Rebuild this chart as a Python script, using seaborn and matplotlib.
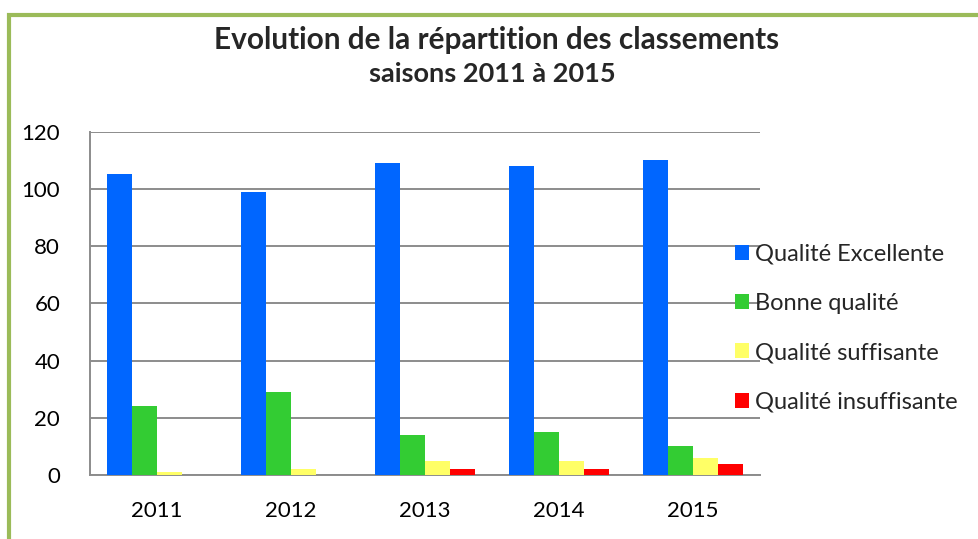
import pandas as pd
import numpy as np
import matplotlib.pyplot as plt
import seaborn as sns
from matplotlib.patches import Rectangle

# Data
years = ['2011', '2012', '2013', '2014', '2015']
excellente = [105, 99, 109, 108, 110]
bonne = [24, 29, 14, 15, 10]
suffisante = [1, 2, 5, 5, 6]
insuffisante = [0, 0, 2, 2, 4]

series = ['Qualité Excellente', 'Bonne qualité', 'Qualité suffisante', 'Qualité insuffisante']
colors = ['#0066FF', '#33CC33', '#FFFF66', '#FF0000']

data = pd.DataFrame({'Année': years,
                     series[0]: excellente,
                     series[1]: bonne,
                     series[2]: suffisante,
                     series[3]: insuffisante})
long = data.melt(id_vars='Année', var_name='Classement', value_name='Nombre')

sns.set_style('white')
plt.rcParams['font.family'] = ['Lato', 'DejaVu Sans']

fig = plt.figure(figsize=(9.79, 5.39), dpi=100)
ax = fig.add_axes([90 / 979, 1 - 475 / 539, 670 / 979, 343.5 / 539])

sns.barplot(data=long, x='Année', y='Nombre', hue='Classement', hue_order=series,
            palette=colors, saturation=1, width=0.75, gap=0, ax=ax, zorder=3,
            linewidth=0)

ax.set_ylim(0, 120)
ax.set_yticks(range(0, 121, 20))
ax.yaxis.grid(True, color='#8c8c8c', linewidth=1.4, zorder=0)
ax.set_axisbelow(True)
ax.set_xlabel('')
ax.set_ylabel('')
for s in ['top', 'right']:
    ax.spines[s].set_visible(False)
for s in ['left', 'bottom']:
    ax.spines[s].set_color('#8c8c8c')
    ax.spines[s].set_linewidth(1.4)
ax.tick_params(axis='y', length=0, pad=21.5, labelsize=16, labelcolor='black')
ax.tick_params(axis='x', length=0, pad=19, labelsize=16, labelcolor='black')

ax.legend(loc='center left', bbox_to_anchor=(0.948, 0.428), frameon=False,
          fontsize=17, handlelength=0.62, handleheight=0.62, handletextpad=0.25,
          labelspacing=1.2, borderaxespad=0)

fig.text(0.507, 1 - 40 / 539, 'Evolution de la répartition des classements',
         ha='center', va='center', fontsize=21.4, fontweight='bold')
fig.text(0.503, 1 - 74 / 539, 'saisons 2011 à 2015',
         ha='center', va='center', fontsize=19.5, fontweight='bold')

# green frame around the chart
fig.patches.append(Rectangle((9 / 979, -0.05), 1.1, 1 - 15 / 539 + 0.05,
                             transform=fig.transFigure, fill=False,
                             edgecolor='#9BBB59', linewidth=3))

fig.savefig('out.png', dpi=100)
